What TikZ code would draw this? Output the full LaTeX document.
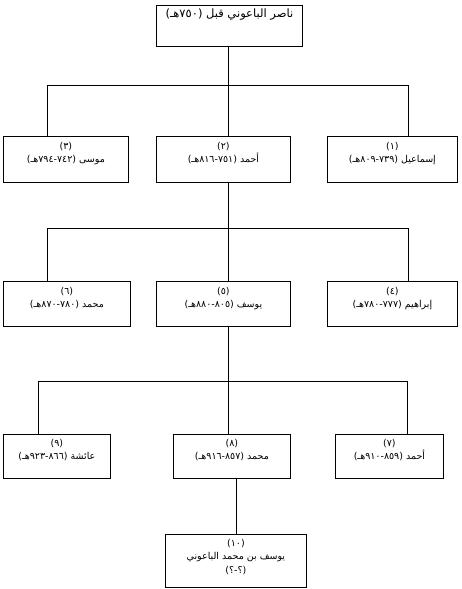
\documentclass[tikz,border=0pt]{standalone}
\usepackage{fontspec}
\newfontfamily\arabicfont[Script=Arabic]{DejaVu Sans}
\TeXXeTstate=1
\usetikzlibrary{positioning}

\tikzset{
  osoba/.style={draw,line width=.8pt,inner sep=0pt,anchor=north west},
  napis/.style={font=\arabicfont\fontsize{9.5}{13.5}\selectfont,align=center,inner sep=0pt},
  linia/.style={line width=.8pt}
}

\begin{document}
\begin{tikzpicture}[x=1pt,y=-1pt,line cap=rect]
 \useasboundingbox (0,0) rectangle (462,589);
 % Przodek.
 \node[osoba,minimum width=146pt,minimum height=41pt] (nasir) at (156,5) {};
 \node[napis,font=\arabicfont\fontsize{11.5}{14}\selectfont,below=4pt] at (nasir.north)
  {\beginR ناصر الباعوني قبل (٧٥٠هـ)\endR};
 % Pierwsze pokolenie.
 \node[osoba,minimum width=125pt,minimum height=46pt] (musa) at (3,136) {};
 \node[osoba,minimum width=134pt,minimum height=46pt] (ahmad) at (156,136) {};
 \node[osoba,minimum width=130pt,minimum height=46pt] (ismail) at (327,136) {};
 \node[napis,below=6pt] at (musa.north) {\beginR (٣)\endR\\\beginR موسى (٧٤٢-٧٩٤هـ)\endR};
 \node[napis,below=6pt] at (ahmad.north) {\beginR (٢)\endR\\\beginR أحمد (٧٥١-٨١٦هـ)\endR};
 \node[napis,below=6pt] at (ismail.north) {\beginR (١)\endR\\\beginR إسماعيل (٧٣٩-٨٠٩هـ)\endR};
 % Drugie pokolenie.
 \node[osoba,minimum width=127pt,minimum height=45pt] (muhammad) at (3,281) {};
 \node[osoba,minimum width=134pt,minimum height=45pt] (yusuf) at (156,281) {};
 \node[osoba,minimum width=130pt,minimum height=45pt] (ibrahim) at (327,281) {};
 \node[napis,below=6pt] at (muhammad.north) {\beginR (٦)\endR\\\beginR محمد (٧٨٠-٨٧٠هـ)\endR};
 \node[napis,below=6pt] at (yusuf.north) {\beginR (٥)\endR\\\beginR يوسف (٨٠٥-٨٨٠هـ)\endR};
 \node[napis,below=6pt] at (ibrahim.north) {\beginR (٤)\endR\\\beginR إبراهيم (٧٧٧-٧٨٠هـ)\endR};
 % Trzecie pokolenie.
 \node[osoba,minimum width=107pt,minimum height=44pt] (aisha) at (3,434) {};
 \node[osoba,minimum width=117pt,minimum height=44pt] (muhammadb) at (173,434) {};
 \node[osoba,minimum width=108pt,minimum height=44pt] (ahmadb) at (335,434) {};
 \node[napis,below=5pt] at (aisha.north) {\beginR (٩)\endR\\\beginR عائشة (٨٦٦-٩٢٣هـ)\endR};
 \node[napis,below=5pt] at (muhammadb.north) {\beginR (٨)\endR\\\beginR محمد (٨٥٧-٩١٦هـ)\endR};
 \node[napis,below=5pt] at (ahmadb.north) {\beginR (٧)\endR\\\beginR أحمد (٨٥٩-٩١٠هـ)\endR};
 % Ostatni potomek.
 \node[osoba,minimum width=141pt,minimum height=53pt] (yusufb) at (165,534) {};
 \node[napis,below=5pt] at (yusufb.north) {\beginR (١٠)\endR\\\beginR يوسف بن محمد الباعوني\endR\\\beginR (؟-؟)\endR};
 % Szyny rozgałęzień.
 \coordinate (j1) at (228,85);
 \coordinate (l1) at (47,85);
 \coordinate (r1) at (408,85);
 \coordinate (j2) at (228,228);
 \coordinate (l2) at (47,228);
 \coordinate (r2) at (408,228);
 \coordinate (j3) at (228,381);
 \coordinate (l3) at (38,381);
 \coordinate (r3) at (407,381);
 \coordinate (j4) at (236,500);
 \draw[linia] (l1) -- (r1) (l2) -- (r2) (l3) -- (r3);
 \draw[linia] (j1 |- nasir.south) -- (j1 |- ahmad.north);
 \draw[linia] (l1) -- (l1 |- musa.north) (r1) -- (r1 |- ismail.north);
 \draw[linia] (j2 |- ahmad.south) -- (j2 |- yusuf.north);
 \draw[linia] (l2) -- (l2 |- muhammad.north) (r2) -- (r2 |- ibrahim.north);
 \draw[linia] (j3 |- yusuf.south) -- (j3 |- muhammadb.north);
 \draw[linia] (l3) -- (l3 |- aisha.north) (r3) -- (r3 |- ahmadb.north);
 \draw[linia] (j4 |- muhammadb.south) -- (j4 |- yusufb.north);
\end{tikzpicture}
\end{document}
